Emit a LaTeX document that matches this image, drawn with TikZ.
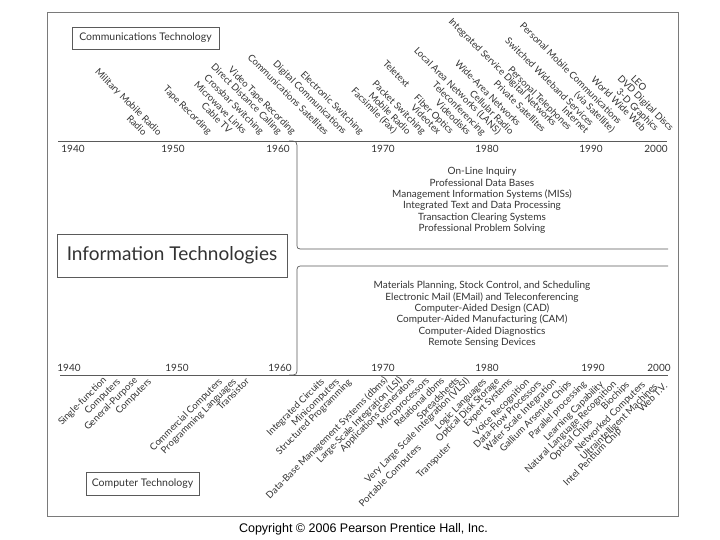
\documentclass[tikz,border=0pt]{standalone}
\usepackage{fontspec}
\setmainfont{Lato}
\newfontfamily\cpfont{Liberation Sans}
\definecolor{txt}{HTML}{333333}
\definecolor{ln}{HTML}{5A5A5A}
\definecolor{fr}{HTML}{7A7A7A}
\newcommand{\lblfont}{\fontsize{9.5}{9.8}\selectfont}
\tikzset{
  tl/.style={rotate=-45, anchor=base east, inner sep=0pt, font=\lblfont, text=txt},
  bl/.style={rotate=45, anchor=base east, inner sep=0pt, font=\lblfont, text=txt},
  yr/.style={inner sep=0pt, font=\fontsize{10}{10}\selectfont, text=txt},
  tbox/.style={draw=ln, line width=0.6pt, text=txt, inner sep=0pt},
  lst/.style={align=center, inner sep=0pt, font=\fontsize{10}{11.4}\selectfont, text=txt},
  tline/.style={draw=ln, line width=0.7pt}
}
\begin{document}
\begin{tikzpicture}[x=1pt,y=-1pt]
\useasboundingbox (0,0) rectangle (720,540);
\fill[white] (0,0) rectangle (720,540);
% frame
\draw[fr, line width=0.7pt] (47,12) rectangle (678,516);
% timelines
\draw[tline] (58,141) -- (667,141);
\draw[tline] (60,375) -- (668,375);
% brackets
\draw[tline] (289,141) .. controls (297,141) .. (297,150) -- (297,243) .. controls (297,249) .. (304,249) -- (668,249);
\draw[tline] (668,266) -- (304,266) .. controls (297,266) .. (297,273) -- (297,367) .. controls (297,375) .. (289,375);
% boxes
\node[tbox, minimum width=147, minimum height=22, font=\fontsize{10.5}{11}\selectfont] (ct) at (145.5,38) {Communications Technology};
\node[tbox, minimum width=230, minimum height=43, font=\fontsize{19}{20}\selectfont] (it) at (172,255.5) {Information Technologies};
\node[tbox, minimum width=113, minimum height=23, font=\fontsize{10.5}{11}\selectfont] (cpt) at (142.5,483.5) {Computer Technology};
% years top
\node[yr] (ya1) at (73,149) {1940};
\node[yr] (ya2) at (173,149) {1950};
\node[yr] (ya3) at (278,149) {1960};
\node[yr] (ya4) at (383,149) {1970};
\node[yr] (ya5) at (487,149) {1980};
\node[yr] (ya6) at (591,149) {1990};
\node[yr] (ya7) at (656,149) {2000};
% years bottom
\node[yr] (yb1) at (69,368) {1940};
\node[yr] (yb2) at (177,368) {1950};
\node[yr] (yb3) at (280,368) {1960};
\node[yr] (yb4) at (383,368) {1970};
\node[yr] (yb5) at (487,368) {1980};
\node[yr] (yb6) at (593,368) {1990};
\node[yr] (yb7) at (659,368) {2000};
% lists
\node[lst] (l1) at (482,200.5) {On-Line Inquiry\\Professional Data Bases\\Management Information Systems (MISs)\\Integrated Text and Data Processing\\Transaction Clearing Systems\\Professional Problem Solving};
\node[lst] (l2) at (482,314.5) {Materials Planning, Stock Control, and Scheduling\\Electronic Mail (EMail) and Teleconferencing\\Computer-Aided Design (CAD)\\Computer-Aided Manufacturing (CAM)\\Computer-Aided Diagnostics\\Remote Sensing Devices};
% top labels
\node[tl] (t1) at (158,136) {Military Mobile Radio};
\node[tl] (t2) at (143,136) {Radio};
\node[tl] (t3) at (208,135) {Tape Recording};
\node[tl] (t4) at (228,134) {Cable TV};
\node[tl] (t5) at (243,135) {Microwave Links};
\node[tl] (t6) at (260,135) {Crossbar Switching};
\node[tl] (t7) at (278,135) {Direct Distance Calling};
\node[tl] (t8) at (292,135) {Video Tape Recording};
\node[tl] (t9) at (325,136) {Communications Satellites};
\node[tl] (t10) at (343,135) {Digital Communications};
\node[tl] (t11) at (360,135) {Electronic Switching};
\node[tl] (t12) at (393,134) {Facsimile (Fax)};
\node[tl] (t13) at (407,135) {Mobile Radio};
\node[tl] (t14) at (422,135) {Packet Switching};
\node[tl] (t15) at (406,88) {Teletext};
\node[tl] (t16) at (437,135) {Videotex};
\node[tl] (t17) at (450,135) {Fiber Optics};
\node[tl] (t18) at (467,136) {Videodisks};
\node[tl] (t19) at (482,136) {Teleconferencing};
\node[tl] (t20) at (497,135) {Local Area Networks (LANS)};
\node[tl] (t21) at (510,135) {Cellular Radio};
\node[tl] (t22) at (517,127) {Wide-Area Networks};
\node[tl] (t23) at (542,133) {Private Satellites};
\node[tl] (t24) at (553,127) {Integrated Service Digital Networks};
\node[tl] (t25) at (568,131) {Personal Telephones};
\node[tl] (t26) at (590,127) {Switched Wideband Services};
\node[tl] (t27) at (585,134) {Internet};
\node[tl] (t28) at (618,125) {Personal Mobile Communications};
\node[tl] (t29) at (611,133) {(via Satellite)};
\node[tl] (t30) at (642,132) {World Wide Web};
\node[tl] (t31) at (655,132) {3-D Graphics};
\node[tl] (t32) at (670,132) {DVD Digital Discs};
\node[tl] (t33) at (643,92) {LEO};
% bottom labels
\node[bl] (b1) at (107,381) {Single-function};
\node[bl] (b2) at (121,382) {Computers};
\node[bl] (b3) at (138,381) {General-Purpose};
\node[bl] (b4) at (152,382) {Computers};
\node[bl] (b5) at (223,382) {Commercial Computers};
\node[bl] (b6) at (237,382) {Programming Languages};
\node[bl] (b7) at (250,382) {Transistor};
\node[bl] (b8) at (325,382) {Integrated Circuits};
\node[bl] (b9) at (340,382) {Minicomputers};
\node[bl] (b10) at (352,383) {Structured Programming};
\node[bl] (b11) at (388,381) {Data-Base Management Systems (dbms)};
\node[bl] (b12) at (403,381) {Large-Scale Integration (LSI)};
\node[bl] (b13) at (415,381) {Applications Generators};
\node[bl] (b14) at (430,381) {Microprocessors};
\node[bl] (b15) at (445,381) {Relational dbms};
\node[bl] (b16) at (460,381) {Spreadsheets};
\node[bl] (b17) at (470,382) {Very Large Scale Integration (VLSI)};
\node[bl] (b18) at (422,448) {Portable Computers};
\node[bl] (b19) at (452,447) {Transputer};
\node[bl] (b20) at (487,382) {Logic Languages};
\node[bl] (b21) at (500,382) {Optical Disk Storage};
\node[bl] (b22) at (513,382) {Expert Systems};
\node[bl] (b23) at (530,383) {Voice Recognition};
\node[bl] (b24) at (542,384) {Data-Flow Processors};
\node[bl] (b25) at (557,383) {Wafer Scale Integration};
\node[bl] (b26) at (572,384) {Gallium Arsenide Chips};
\node[bl] (b27) at (587,385) {Parallel processing};
\node[bl] (b28) at (604,385) {Learning Capability};
\node[bl] (b29) at (617,385) {Natural Language Recognition};
\node[bl] (b30) at (593,422) {Optical Chips};
\node[bl] (b31) at (630,385) {Biochips};
\node[bl] (b32) at (646,385) {Networked Computers};
\node[bl] (b33) at (658,387) {Ultraintelligent Machines};
\node[bl] (b34) at (622,432) {Intel Pentium Chip};
\node[bl] (b35) at (668,387) {Web T.V.};
% copyright
\node[inner sep=0pt, font=\cpfont\fontsize{12.5}{13}\selectfont] (cp) at (363.5,529) {Copyright © 2006 Pearson Prentice Hall, Inc.};
\end{tikzpicture}
\end{document}
